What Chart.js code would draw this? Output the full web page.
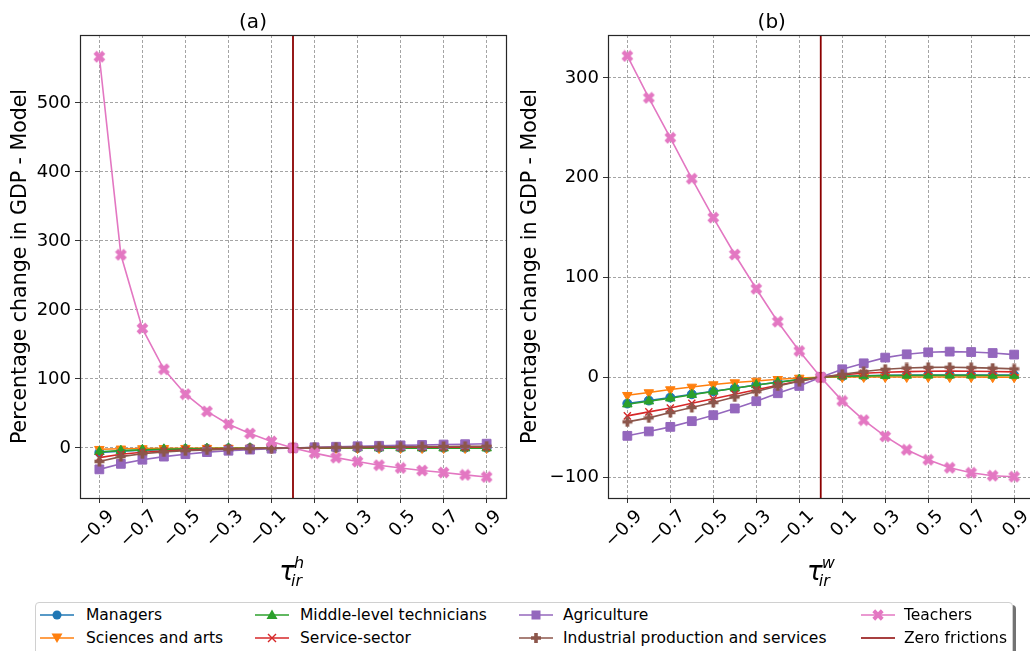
<!DOCTYPE html>
<html>
<head>
<meta charset="utf-8">
<script src="https://cdn.jsdelivr.net/npm/chart.js@4.4.1/dist/chart.umd.min.js"></script>
<style>
  html, body { margin: 0; padding: 0; background: #fff; width: 1030px; height: 651px; overflow: hidden; font-family: "DejaVu Sans", sans-serif; }
  #wrapA { position: absolute; left: 0; top: 0; width: 515px; height: 600px; }
  #wrapB { position: absolute; left: 510px; top: 0; width: 540px; height: 600px; }
  #legend { position: absolute; left: 35px; top: 602px; width: 976px; height: 70px; background: #fff;
            border: 1px solid #d0d0d0; border-radius: 4px; box-shadow: 3px 3px 0 rgba(0,0,0,0.55); }
  .item { position: absolute; height: 20px; display: flex; align-items: center; font-size: 15.5px; color: #000; white-space: nowrap; }
  .item svg { flex: none; }
</style>
</head>
<body>
<div id="wrapA"><canvas id="chartA" width="515" height="600"></canvas></div>
<div id="wrapB"><canvas id="chartB" width="540" height="600"></canvas></div>
<div id="legend"></div>
<script>
// tau values on the x axis
const tau = [-0.9, -0.8, -0.7, -0.6, -0.5, -0.4, -0.3, -0.2, -0.1, 0, 0.1, 0.2, 0.3, 0.4, 0.5, 0.6, 0.7, 0.8, 0.9];
const xTicks = [-0.9, -0.7, -0.5, -0.3, -0.1, 0.1, 0.3, 0.5, 0.7, 0.9];
const zeroFriction = 0;

const seriesNames = ['Managers', 'Sciences and arts', 'Middle-level technicians', 'Service-sector',
  'Agriculture', 'Industrial production and services', 'Teachers'];

// panel (a): tau_ir^h
const managersA    = [-6.5, -4.6, -3.3, -2.4, -1.7, -1.1, -0.7, -0.4, -0.2, 0, 0.1, 0.2, 0.2, 0.3, 0.3, 0.3, 0.3, 0.3, 0.3];
const sciencesA    = [-1.8, -1.2, -0.8, -0.5, -0.3, -0.2, -0.1, -0.05, 0, 0, 0, 0, -0.1, -0.1, -0.1, -0.1, -0.1, -0.1, -0.1];
const middleA      = [-5.5, -3.9, -2.7, -1.9, -1.3, -0.9, -0.5, -0.3, -0.1, 0, 0, -0.1, -0.1, -0.2, -0.2, -0.2, -0.3, -0.3, -0.3];
const serviceA     = [-14, -9, -6.2, -4.3, -3, -2, -1.3, -0.7, -0.3, 0, 0.3, 0.6, 0.8, 1, 1.1, 1.2, 1.3, 1.4, 1.5];
const agricultureA = [-31, -23, -17, -12.5, -9, -6, -4, -2.4, -1, 0, 1, 1.8, 2.5, 3.2, 3.8, 4.4, 5, 5.5, 6.2];
const industrialA  = [-19.5, -12.5, -8.3, -5.7, -4, -2.8, -1.8, -1, -0.4, 0, 0.5, 0.9, 1.3, 1.6, 1.8, 2, 2.2, 2.4, 2.5];
const teachersA    = [567, 280, 173, 114, 78, 53, 34.5, 21, 9.5, 0, -7.5, -14, -19.7, -25, -29, -32.7, -35.6, -39, -42];
const yLimA = [-72.5, 598.5];
const yTicksA = [0, 100, 200, 300, 400, 500];

// panel (b): tau_ir^w
const managersB    = [-26.3, -23.3, -20.3, -17, -14, -11, -7.7, -5, -2.3, 0, 1, 1.5, 2, 2.2, 2.3, 2.3, 2.3, 2.2, 2.1];
const sciencesB    = [-18, -15.3, -12.3, -9.7, -7.3, -5.3, -3.7, -2, -0.7, 0, 0.2, 0.3, 0.3, 0.3, 0.3, 0.2, 0.2, 0.1, 0];
const middleB      = [-27, -24, -21, -17.5, -14.2, -11, -7.8, -5, -2.4, 0, 1, 1.3, 1.6, 1.8, 1.9, 1.9, 1.9, 1.8, 1.7];
const serviceB     = [-38.7, -34.7, -30.8, -26, -21.5, -17, -12.5, -8, -3.8, 0, 2.5, 4, 5, 5.6, 6, 6.1, 6, 5.8, 5.4];
const agricultureB = [-58.7, -54.3, -49.7, -44, -38, -31.3, -24, -16, -8.7, 0, 8, 14, 19.7, 23, 25, 25.7, 25.3, 24.3, 22.7];
const industrialB  = [-44.7, -40.7, -35.3, -30.3, -25.3, -19.7, -14.3, -8.7, -4, 0, 3, 5.7, 8, 9.3, 9.9, 10, 9.7, 9.2, 8.4];
const teachersB    = [322, 280, 240, 199, 160, 123, 88.7, 55.7, 26.3, 0, -23.7, -43, -59.3, -72.7, -82.7, -90.7, -95.7, -98.7, -99.7];
const yLimB = [-121, 343];
const yTicksB = [-100, 0, 100, 200, 300];

const colors = ['#1f77b4', '#ff7f0e', '#2ca02c', '#d62728', '#9467bd', '#8c564b', '#e377c2'];
const zeroColor = '#8b0000';
const FONT = '"DejaVu Sans", sans-serif';

// filled plus / filled x markers (matplotlib 'P' and 'X')
function filledCross(color, size, rotated) {
  const c = document.createElement('canvas');
  c.width = c.height = size;
  const g = c.getContext('2d');
  g.translate(size / 2, size / 2);
  if (rotated) g.rotate(Math.PI / 4);
  const a = rotated ? size * 0.47 : size * 0.45, t = size * 0.17;
  g.fillStyle = color;
  g.beginPath();
  g.rect(-a, -t, 2 * a, 2 * t);
  g.rect(-t, -a, 2 * t, 2 * a);
  g.fill();
  return c;
}

const markers = [
  { style: 'circle', radius: 4.5, rot: 0 },
  { style: 'triangle', radius: 5.5, rot: 180 },
  { style: 'triangle', radius: 5.5, rot: 0 },
  { style: 'crossRot', radius: 5, rot: 0 },
  { style: 'rect', radius: 6.2, rot: 0 },
  { style: filledCross(colors[5], 11, false), radius: 5, rot: 0 },
  { style: filledCross(colors[6], 13, true), radius: 5, rot: 0 }
];

function toPoints(vals) {
  return tau.map((t, k) => ({ x: t, y: vals[k] }));
}

function buildDatasets(series, yLim) {
  const sets = series.map((vals, i) => ({
    label: seriesNames[i],
    data: toPoints(vals),
    borderColor: colors[i],
    backgroundColor: colors[i],
    borderWidth: 1.6,
    pointStyle: markers[i].style,
    pointRadius: markers[i].radius,
    pointRotation: markers[i].rot,
    pointBorderWidth: i === 3 ? 1.4 : 1,
    pointBorderColor: colors[i],
    pointBackgroundColor: colors[i],
    tension: 0,
    order: series.length - i + 1
  }));
  sets.push({
    label: 'Zero frictions',
    data: [{ x: zeroFriction, y: yLim[0] }, { x: zeroFriction, y: yLim[1] }],
    borderColor: zeroColor,
    borderWidth: 1.8,
    pointRadius: 0,
    order: 0
  });
  return sets;
}

function minusFmt(v, digits) {
  const s = Math.abs(v).toFixed(digits);
  return v < 0 ? '\u2212' + s : s;
}

// frame (all four spines) and the tau axis symbol
const framePlugin = {
  id: 'frame',
  afterDraw(chart, args, opts) {
    const { ctx, chartArea: a } = chart;
    ctx.save();
    ctx.strokeStyle = '#262626';
    ctx.lineWidth = 1.2;
    ctx.strokeRect(Math.round(a.left) + 0.5, Math.round(a.top) + 0.5,
      Math.round(a.right - a.left), Math.round(a.bottom - a.top));
    const cx = (a.left + a.right) / 2;
    ctx.fillStyle = '#000';
    ctx.textBaseline = 'alphabetic';
    ctx.font = 'italic 26px ' + FONT;
    ctx.textAlign = 'right';
    ctx.fillText('\u03C4', cx + 2, 580);
    ctx.textAlign = 'left';
    ctx.font = 'italic 16px ' + FONT;
    ctx.fillText(opts.sup, cx + 1, 568);
    ctx.fillText('ir', cx - 2, 586);
    ctx.restore();
  }
};

function makeOptions(title, sup, yLim, yTicks, yWidth, padRight) {
  return {
    responsive: false,
    animation: false,
    devicePixelRatio: 1,
    events: [],
    layout: { padding: { left: 0, right: padRight, top: 0, bottom: 0 } },
    plugins: {
      legend: { display: false },
      tooltip: { enabled: false },
      title: {
        display: true, text: title, color: '#000',
        font: { family: FONT, size: 20, weight: 'normal' },
        padding: { top: 10.5, bottom: 0.5 }
      },
      frame: { sup: sup }
    },
    scales: {
      x: {
        type: 'linear', min: -0.99, max: 0.99,
        afterBuildTicks: s => { s.ticks = xTicks.map(v => ({ value: v })); },
        afterFit: s => { s.height = 102; },
        ticks: {
          autoSkip: false, minRotation: 45, maxRotation: 45, labelOffset: 12, padding: 3,
          color: '#000', font: { family: FONT, size: 18 },
          callback: v => minusFmt(v, 1)
        },
        grid: { color: 'rgba(0,0,0,0.45)', lineWidth: 0.8, tickLength: 5, tickColor: '#333', tickWidth: 1 },
        border: { display: false, dash: [3, 2] }
      },
      y: {
        type: 'linear', min: yLim[0], max: yLim[1],
        afterBuildTicks: s => { s.ticks = yTicks.map(v => ({ value: v })); },
        afterFit: s => { s.width = yWidth; },
        ticks: { padding: 4, color: '#000', font: { family: FONT, size: 18 }, callback: v => minusFmt(v, 0) },
        grid: { color: 'rgba(0,0,0,0.45)', lineWidth: 0.8, tickLength: 5, tickColor: '#333', tickWidth: 1 },
        border: { display: false, dash: [3, 2] },
        title: {
          display: true, text: 'Percentage change in GDP - Model', color: '#000',
          font: { family: FONT, size: 20.5 }, padding: { top: 8, bottom: 0 }
        }
      }
    }
  };
}

new Chart(document.getElementById('chartA'), {
  type: 'line',
  data: { datasets: buildDatasets([managersA, sciencesA, middleA, serviceA, agricultureA, industrialA, teachersA], yLimA) },
  options: makeOptions('(a)', 'h', yLimA, yTicksA, 80, 9),
  plugins: [framePlugin]
});

new Chart(document.getElementById('chartB'), {
  type: 'line',
  data: { datasets: buildDatasets([managersB, sciencesB, middleB, serviceB, agricultureB, industrialB, teachersB], yLimB) },
  options: makeOptions('(b)', 'w', yLimB, yTicksB, 98, 16.5),
  plugins: [framePlugin]
});

// legend, matplotlib-style: 4 columns, filled column-wise
function iconSvg(i) {
  const c = i < colors.length ? colors[i] : zeroColor;
  let m = '';
  if (i === 0) m = `<circle cx="17" cy="10" r="4.5" fill="${c}"/>`;
  if (i === 1) m = `<polygon points="17,15 11.5,5.5 22.5,5.5" fill="${c}"/>`;
  if (i === 2) m = `<polygon points="17,4.5 11.5,14 22.5,14" fill="${c}"/>`;
  if (i === 3) m = `<path d="M13,6 L21,14 M21,6 L13,14" stroke="${c}" stroke-width="1.4"/>`;
  if (i === 4) m = `<rect x="12.5" y="5.5" width="9" height="9" fill="${c}"/>`;
  if (i === 5) m = `<path d="M15.2,5 h3.6 v3.2 h3.2 v3.6 h-3.2 v3.2 h-3.6 v-3.2 h-3.2 v-3.6 h3.2 z" fill="${c}"/>`;
  if (i === 6) m = `<g transform="rotate(45 17 10)"><path d="M15,4 h4 v4 h4 v4 h-4 v4 h-4 v-4 h-4 v-4 h4 z" fill="${c}"/></g>`;
  return `<svg width="34" height="20"><line x1="0" y1="10" x2="34" y2="10" stroke="${c}" stroke-width="1.6"/>${m}</svg>`;
}

const legendNames = seriesNames.concat(['Zero frictions']);
const legendOrder = [[0, 1], [2, 3], [4, 5], [6, 7]];
const colIcon = [3.5, 219, 483, 825];
const colText = [50, 264, 527, 868];
const rowTop = [2, 25];
const legend = document.getElementById('legend');
legendOrder.forEach((col, ci) => {
  col.forEach((idx, ri) => {
    const el = document.createElement('div');
    el.className = 'item';
    el.style.left = colIcon[ci] + 'px';
    el.style.top = rowTop[ri] + 'px';
    el.innerHTML = iconSvg(idx) + `<span style="margin-left:${colText[ci] - colIcon[ci] - 34}px">${legendNames[idx]}</span>`;
    legend.appendChild(el);
  });
});
</script>
</body>
</html>
